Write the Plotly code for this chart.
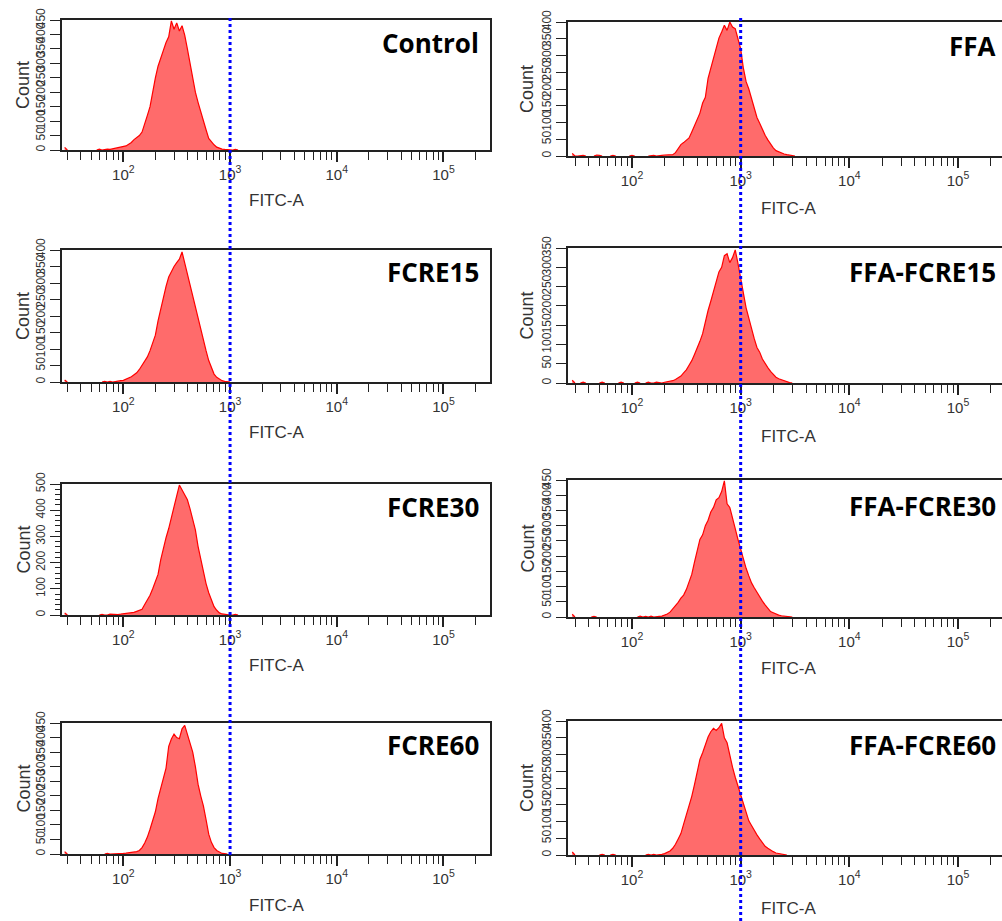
import numpy as np
import plotly.graph_objects as go

# ---------------- data ----------------
# histogram bins on a log10(FITC-A) grid
bin_log_first = 1.45
bin_log_step = 0.025
gate_fitc = 1000  # dotted threshold line

control = [
    9, 0, 0, 0, 0, 0, 0, 0, 0, 0,
    0, 0, 0, 3, 0, 2, 3, 2, 4, 5,
    6, 8, 10, 14, 20, 26, 36, 42, 50, 62,
    88, 120, 150, 205, 250, 290, 322, 345, 372, 392,
    447, 418, 440, 412, 430, 398, 350, 300, 240, 200,
    165, 130, 100, 70, 40, 28, 18, 10, 6, 3,
    2, 1, 0, 0, 2, 0, 0, 0, 0, 0,
    0, 0, 0, 0, 0, 0, 0, 0, 0, 0,
    0, 0, 0, 0, 0]
fcre15 = [
    6, 0, 0, 0, 0, 0, 0, 0, 0, 0,
    0, 0, 0, 0, 0, 2, 0, 2, 0, 2,
    2, 4, 5, 8, 12, 16, 22, 28, 38, 50,
    60, 76, 95, 120, 142, 185, 220, 262, 290, 318,
    335, 350, 362, 372, 394, 360, 334, 300, 262, 225,
    195, 160, 125, 95, 65, 45, 24, 14, 8, 4,
    2, 1, 0, 0, 0, 0, 0, 0, 0, 0,
    0, 0, 0, 0, 0, 0, 0, 0, 0, 0,
    0, 0, 0, 0, 0]
fcre30 = [
    8, 0, 0, 0, 0, 0, 0, 0, 0, 0,
    0, 0, 0, 0, 2, 0, 0, 3, 2, 3,
    2, 3, 4, 5, 6, 8, 10, 14, 18, 22,
    40, 55, 75, 100, 128, 155, 210, 255, 295, 330,
    375, 410, 455, 496, 478, 462, 440, 405, 360, 325,
    262, 212, 165, 120, 85, 55, 32, 18, 8, 4,
    2, 1, 0, 0, 2, 0, 0, 0, 0, 0,
    0, 0, 0, 0, 0, 0, 0, 0, 0, 0,
    0, 0, 0, 0, 0]
fcre60 = [
    8, 0, 0, 0, 0, 0, 0, 0, 0, 0,
    0, 0, 0, 0, 0, 0, 2, 0, 0, 2,
    0, 2, 2, 3, 4, 5, 6, 8, 12, 22,
    38, 58, 85, 112, 145, 190, 225, 262, 295, 370,
    395, 412, 400, 396, 430, 442, 410, 385, 350, 300,
    240, 200, 165, 118, 68, 40, 22, 12, 6, 2,
    1, 0, 0, 0, 0, 0, 0, 0, 0, 0,
    0, 0, 0, 0, 0, 0, 0, 0, 0, 0,
    0, 0, 0, 0, 0]
ffa = [
    8, 0, 0, 2, 2, 0, 0, 0, 0, 3,
    2, 0, 0, 0, 0, 2, 0, 0, 0, 0,
    0, 0, 2, 0, 0, 0, 0, 0, 0, 2,
    2, 0, 0, 2, 3, 3, 4, 4, 10, 22,
    34, 40, 48, 54, 72, 92, 112, 128, 158, 175,
    232, 262, 300, 330, 352, 370, 390, 375, 400, 385,
    380, 350, 320, 262, 222, 200, 172, 150, 115, 98,
    78, 62, 48, 35, 24, 16, 12, 9, 6, 4,
    3, 1, 0, 0, 0]
ffa_fcre15 = [
    7, 0, 0, 0, 2, 0, 0, 0, 0, 0,
    0, 2, 0, 0, 0, 0, 0, 0, 2, 0,
    0, 0, 0, 0, 2, 0, 0, 0, 2, 0,
    0, 2, 0, 0, 2, 3, 4, 6, 9, 13,
    18, 26, 34, 46, 58, 74, 90, 108, 128, 160,
    188, 212, 240, 262, 288, 300, 330, 335, 312, 325,
    345, 310, 270, 230, 195, 168, 140, 115, 92, 80,
    62, 50, 40, 30, 21, 15, 11, 8, 5, 2,
    1, 0, 0, 0, 0]
ffa_fcre30 = [
    9, 0, 0, 0, 0, 0, 0, 0, 2, 0,
    0, 0, 0, 0, 0, 0, 0, 0, 0, 0,
    0, 0, 0, 0, 0, 3, 0, 2, 0, 3,
    0, 2, 2, 3, 6, 10, 16, 26, 36, 48,
    62, 72, 90, 115, 140, 180, 215, 255, 270, 300,
    318, 345, 360, 385, 392, 412, 447, 372, 360, 320,
    290, 255, 222, 185, 160, 135, 112, 96, 80, 66,
    52, 40, 30, 18, 14, 9, 6, 4, 3, 2,
    1, 0, 0, 0, 0]
ffa_fcre60 = [
    9, 0, 0, 0, 0, 0, 0, 0, 0, 0,
    0, 2, 0, 0, 0, 2, 0, 0, 0, 0,
    0, 0, 0, 0, 0, 0, 0, 0, 2, 0,
    2, 0, 0, 2, 4, 8, 12, 20, 32, 48,
    64, 92, 118, 145, 175, 210, 250, 285, 305, 330,
    352, 368, 378, 372, 380, 393, 350, 335, 295, 262,
    232, 205, 178, 150, 122, 102, 88, 72, 60, 48,
    35, 26, 20, 14, 10, 6, 4, 2, 1, 0,
    0, 0, 0, 0, 0]

sample_names = ["Control", "FFA", "FCRE15", "FFA-FCRE15",
                "FCRE30", "FFA-FCRE30", "FCRE60", "FFA-FCRE60"]
sample_counts = [control, ffa, fcre15, ffa_fcre15,
                 fcre30, ffa_fcre30, fcre60, ffa_fcre60]
count_axis_max = [450, 400, 400, 350, 500, 450, 450, 400]
count_tick_step = [50, 50, 50, 50, 100, 50, 50, 50]

decade_values = [100, 1000, 10000, 100000]
decade_labels = ["10<sup>2</sup>", "10<sup>3</sup>", "10<sup>4</sup>", "10<sup>5</sup>"]
x_title = "FITC-A"
y_title = "Count"

# ---------------- geometry / style ----------------
W, H = 1002, 921
col_geom = [
    dict(x0=62, x1=490, rng=[1.425, 5.436], count_x=23, fitc_x=276, title_r=481,
         gate_y=(18, 858)),
    dict(x0=568, x1=1002, rng=[1.411, 5.405], count_x=527, fitc_x=788, title_r=998,
         gate_y=(18, 921)),
]
# (top, bottom, FITC-A label centre y, title centre y) per row / column
row_geom = [
    [(20, 150, 200, 43), (22, 156, 208, 46)],
    [(250, 382, 432, 272), (248, 383, 436, 272)],
    [(484, 615, 665, 507), (480, 617, 668, 506)],
    [(723, 854, 905, 745), (721, 855, 908, 745)],
]

AX = "#222222"
TXT = "#333333"
LINE_RED = "#ff0000"
FILL_RED = "rgba(255,50,50,0.72)"
BASE_FONT = "Liberation Sans, Arial, sans-serif"
TITLE_FONT = "Open Sans, Lato, sans-serif"

fitc = 10 ** (bin_log_first + bin_log_step * np.arange(len(control)))
minor_vals = [d * m for d in [10, 100, 1000, 10000, 100000] for m in range(2, 10)]


def visible_counts(counts):
    """Hide long empty runs so no red line is drawn along the baseline."""
    out = []
    n = len(counts)
    for j, v in enumerate(counts):
        near = any(counts[t] > 0 for t in range(max(0, j - 1), min(n, j + 2)))
        out.append(v if near else None)
    return out


fig = go.Figure()
layout = dict(
    width=W, height=H, margin=dict(l=0, r=0, t=0, b=0, pad=0, autoexpand=False),
    paper_bgcolor="white", plot_bgcolor="rgba(0,0,0,0)", showlegend=False,
)
annotations = []

for i, (name, counts) in enumerate(zip(sample_names, sample_counts)):
    k = i + 1
    r, c = divmod(i, 2)
    cg = col_geom[c]
    top, bot, fitc_y, title_y = row_geom[r][c]
    xs = "x" if k == 1 else f"x{k}"
    ys = "y" if k == 1 else f"y{k}"

    fig.add_trace(go.Scatter(
        x=fitc, y=visible_counts(counts), xaxis=xs, yaxis=ys, mode="lines",
        line=dict(color=LINE_RED, width=1.2), fill="tozeroy", fillcolor=FILL_RED,
        connectgaps=False, hoverinfo="skip", showlegend=False))

    layout["xaxis" if k == 1 else f"xaxis{k}"] = dict(
        type="log", range=cg["rng"], domain=[cg["x0"] / W, cg["x1"] / W],
        anchor=ys, showline=True, mirror=True, linecolor=AX, linewidth=1.5,
        ticks="outside", ticklen=10, tickwidth=1.5, tickcolor=AX,
        tickvals=decade_values, ticktext=decade_labels,
        tickfont=dict(family=BASE_FONT, size=15, color=TXT),
        minor=dict(ticks="outside", ticklen=8, tickwidth=1.4, tickcolor=AX,
                   tickvals=minor_vals, showgrid=False),
        showgrid=False, zeroline=False, fixedrange=True, automargin=False)

    ymax = count_axis_max[i]
    step = count_tick_step[i]
    yax = dict(
        range=[0, ymax], domain=[1 - bot / H, 1 - top / H], anchor=xs,
        showline=True, mirror=True, linecolor=AX, linewidth=1.5,
        ticks="outside", ticklen=10, tickwidth=1.3, tickcolor=AX,
        tickvals=list(range(0, ymax + 1, step)), tickangle=-90,
        tickfont=dict(family=BASE_FONT, size=12, color=TXT),
        showgrid=False, zeroline=False, fixedrange=True, automargin=False)
    if step == 100:
        yax["minor"] = dict(ticks="outside", ticklen=5, tickwidth=1, tickcolor=AX,
                            tickvals=list(range(0, ymax + 1, 20)), showgrid=False)
    layout["yaxis" if k == 1 else f"yaxis{k}"] = yax

    # panel title
    annotations.append(dict(
        text=f"<b>{name}</b>", xref="paper", yref="paper",
        x=cg["title_r"] / W, y=1 - title_y / H, xanchor="right", yanchor="middle",
        showarrow=False, font=dict(family=TITLE_FONT, size=26, color="black")))
    # axis titles
    annotations.append(dict(
        text=x_title, xref="paper", yref="paper",
        x=cg["fitc_x"] / W, y=1 - fitc_y / H, xanchor="center", yanchor="middle",
        showarrow=False, font=dict(family=BASE_FONT, size=17, color=TXT)))
    annotations.append(dict(
        text=y_title, xref="paper", yref="paper", textangle=-90,
        x=cg["count_x"] / W, y=1 - (top + bot) / 2 / H, xanchor="center", yanchor="middle",
        showarrow=False, font=dict(family=BASE_FONT, size=18, color=TXT)))

# dotted gate lines: one full-height overlay subplot per column, sharing the
# column's log FITC-A scale; y runs in screen pixels (top = 0)
for c in range(2):
    cg = col_geom[c]
    k = 9 + c
    g0, g1 = cg["gate_y"]
    layout[f"xaxis{k}"] = dict(type="log", range=cg["rng"],
                               domain=[cg["x0"] / W, cg["x1"] / W], anchor=f"y{k}",
                               visible=False, fixedrange=True)
    layout[f"yaxis{k}"] = dict(range=[H, 0], domain=[0, 1], anchor=f"x{k}",
                               visible=False, fixedrange=True)
    fig.add_trace(go.Scatter(
        x=[gate_fitc, gate_fitc], y=[g0, g1], xaxis=f"x{k}", yaxis=f"y{k}",
        mode="lines", line=dict(color="#0000ff", width=3, dash="dot"),
        hoverinfo="skip", showlegend=False, cliponaxis=False))

layout["annotations"] = annotations
fig.update_layout(**layout)

fig.write_html("out.html", config={"displayModeBar": False},
               post_script="document.body.style.margin='0';document.body.style.overflow='hidden';")
